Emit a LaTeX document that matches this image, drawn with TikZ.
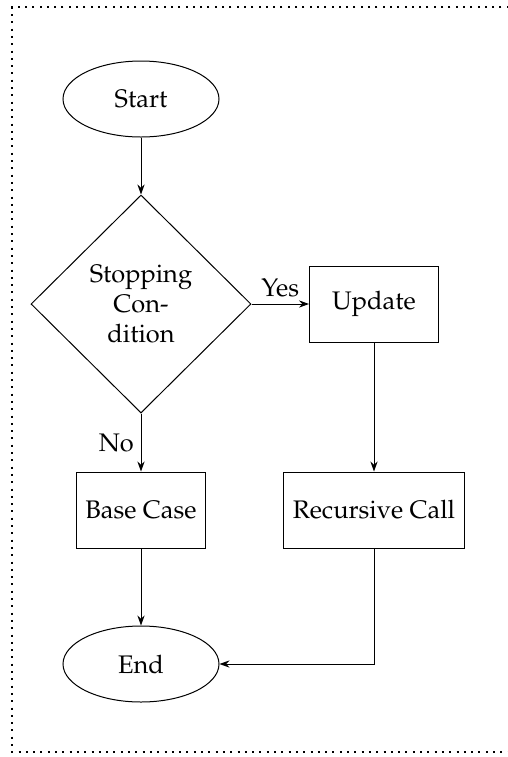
\documentclass[tikz,border=0pt]{standalone}
\usepackage[T1]{fontenc}
\usepackage{mathpazo}
\usetikzlibrary{shapes.geometric,arrows.meta}

\tikzset{
  flow/.style={draw, line width=0.5pt, font=\fontsize{12.7}{15}\selectfont},
  terminal/.style={flow, ellipse, minimum width=78pt, minimum height=38pt, inner sep=0pt},
  decision/.style={flow, diamond, minimum width=110pt, minimum height=109pt, inner sep=0pt, align=center},
  process/.style={flow, rectangle, minimum width=64.5pt, minimum height=38pt, inner sep=4.5pt},
  link/.style={draw, line width=0.5pt, -{Stealth[length=5pt,width=3.6pt]}},
  lbl/.style={font=\fontsize{12.7}{15}\selectfont},
  frameline/.style={line width=1pt, dash pattern=on 1pt off 2.65pt}
}

\begin{document}
\begin{tikzpicture}[x=0.5pt, y=-0.5pt]
  \useasboundingbox (0,0) rectangle (508,757);

  % dotted frame, open on the right
  \draw[frameline] (516,7) -- (12,7) -- (12,752) -- (516,752);

  \node[terminal] (start) at (141,99) {Start};
  \node[decision] (cond) at (141,304) {Stopping\\Con-\\dition};
  \node[process] (update) at (374,304) {Update};
  \node[process] (base) at (141,510) {Base Case};
  \node[process] (rec) at (374,510) {Recursive Call};
  \node[terminal] (end) at (141,664) {End};

  \draw[link] (start) -- (cond);
  \draw[link] (cond.east) -- node[lbl, above] {Yes} (update.west);
  \draw[link] (cond.south) -- node[lbl, left] {No} (base.north);
  \draw[link] (update) -- (rec);
  \draw[link] (base) -- (end);
  \draw[link] (rec.south) |- (end.east);
\end{tikzpicture}
\end{document}
